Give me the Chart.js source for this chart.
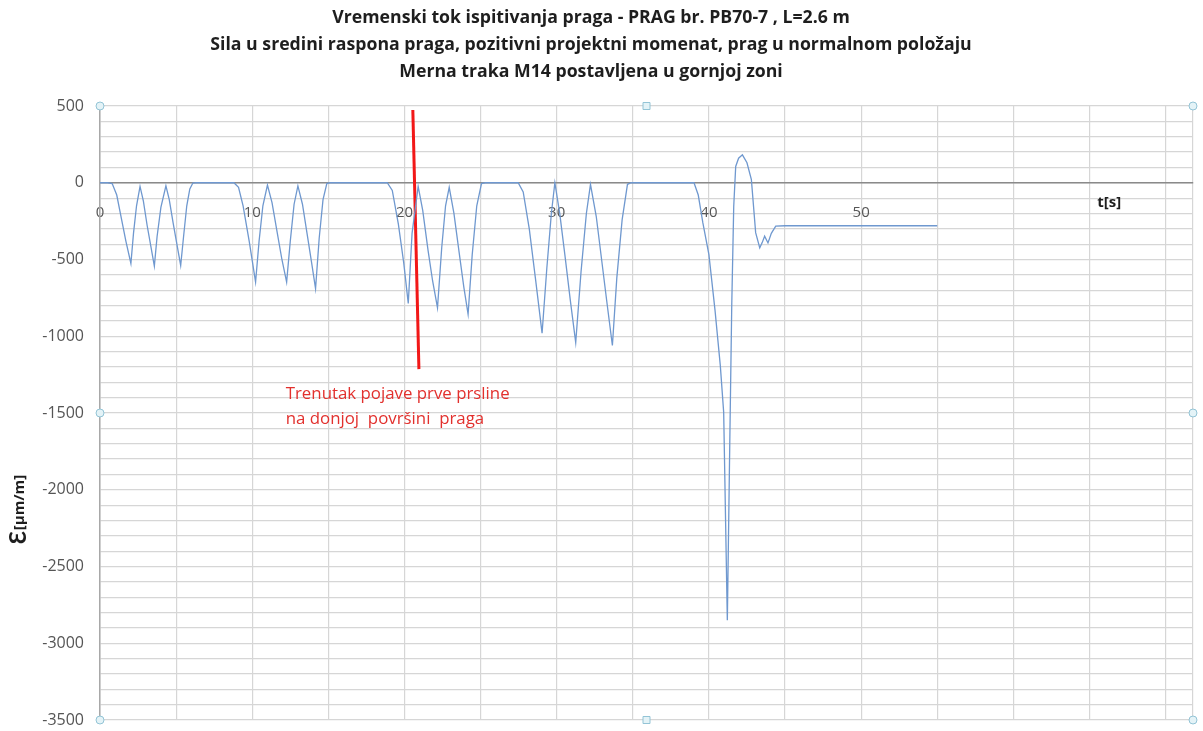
<!DOCTYPE html>
<html><head><meta charset="utf-8">
<script src="https://cdn.jsdelivr.net/npm/chart.js@4.4.1/dist/chart.umd.min.js"></script>
<style>html,body{margin:0;padding:0;background:#fff}#wrap{width:1203px;height:731px;position:relative}</style>
</head><body><div id="wrap"><canvas id="c" width="1203" height="731"></canvas></div>
<script>
const titleLines = [
  'Vremenski tok ispitivanja praga - PRAG br. PB70-7 , L=2.6 m',
  'Sila u sredini raspona praga, pozitivni projektni momenat, prag u normalnom položaju',
  'Merna traka M14 postavljena u gornjoj zoni'
];
const yAxisTitle = ['Ɛ', '[µm/m]'];
const xAxisTitle = 't[s]';
const annotationLines = ['Trenutak pojave prve prsline', 'na donjoj  površini  praga'];
const xTickLabels = ['0', '10', '20', '30', '40', '50'];
const yTickLabels = ['500', '0', '-500', '-1000', '-1500', '-2000', '-2500', '-3000', '-3500'];

const timeS = [
  0, 0.5, 0.8, 1.1, 1.4, 1.7, 2.03, 2.2, 2.4, 2.63, 2.85, 3.1, 3.35, 3.57, 3.75, 4.0, 4.33, 4.55, 4.8, 5.05, 5.3, 5.5, 5.7, 5.9, 6.1, 6.3,
  8.8, 9.1, 9.4, 9.8, 10.22, 10.45, 10.7, 11.0, 11.3, 11.65, 11.95, 12.26, 12.5, 12.75, 13.0, 13.3, 13.6, 13.9, 14.16, 14.4, 14.65, 14.9, 15.1,
  18.87, 19.2, 19.6, 19.95, 20.25, 20.5, 20.9, 21.2, 21.55, 21.85, 22.17, 22.45, 22.7, 22.94, 23.25, 23.6, 23.9, 24.18, 24.45, 24.75, 25.06, 25.3,
  27.47, 27.8, 28.2, 28.6, 29.04, 29.35, 29.65, 29.88, 30.2, 30.55, 30.9, 31.25, 31.6, 31.95, 32.22, 32.6, 32.95, 33.3, 33.66, 33.95, 34.3, 34.65, 34.9,
  39.02, 39.3, 39.6, 40.0, 40.4, 40.75, 40.97, 41.21, 41.37, 41.5, 41.63, 41.76, 41.95, 42.2, 42.5, 42.79, 43.07, 43.34, 43.5, 43.66, 43.88, 44.1, 44.39, 45, 55
];
const strain = [
  0, 0, -5, -80, -230, -380, -526, -330, -150, -24, -120, -280, -420, -543, -350, -160, -20, -110, -260, -400, -539, -340, -150, -40, -2, 0,
  0, -30, -150, -380, -647, -380, -150, -15, -130, -330, -500, -647, -380, -140, -20, -140, -330, -520, -690, -360, -110, -5, 0,
  0, -50, -270, -520, -786, -330, -24, -180, -440, -640, -814, -420, -150, -30, -200, -460, -680, -857, -470, -150, -5, 0,
  0, -60, -300, -620, -980, -560, -200, 0, -200, -480, -770, -1041, -580, -200, -10, -220, -500, -780, -1060, -620, -240, -10, 0,
  0, -80, -260, -468, -830, -1193, -1496, -2850, -1700, -800, -154, 106, 160, 182, 130, 20, -325, -424, -390, -348, -392, -330, -283, -280, -280
];
const crackLineT = [20.55, 20.95];
const crackLineV = [474, -1214];

const xGridValues = [0, 5, 10, 15, 20, 25, 30, 35, 40, 45, 50, 55, 60, 65, 70, 71.8];

const FONT = '"Open Sans", Lato, "Liberation Sans", sans-serif';

function fitFont(ctx, weight, text, target) {
  ctx.font = weight + ' 20px ' + FONT;
  const w = ctx.measureText(text).width;
  return weight + ' ' + (20 * target / w).toFixed(2) + 'px ' + FONT;
}

const decorPlugin = {
  id: 'decor',
  afterDraw(chart) {
    const ctx = chart.ctx;
    const a = chart.chartArea;
    const xs = chart.scales.x, ys = chart.scales.y;
    ctx.save();
    // title
    ctx.fillStyle = '#1e1e1e';
    ctx.font = fitFont(ctx, 'bold', titleLines[1], 762);
    ctx.textAlign = 'center';
    ctx.textBaseline = 'middle';
    const ty = [18, 45, 72];
    titleLines.forEach((l, i) => ctx.fillText(l, 591, ty[i]));
    // annotation text
    ctx.fillStyle = '#e2302d';
    ctx.font = fitFont(ctx, 'normal', annotationLines[0], 224);
    ctx.textAlign = 'left';
    const ax = xs.getPixelForValue(12.2);
    const ay = ys.getPixelForValue(-1377);
    ctx.fillText(annotationLines[0], ax, ay);
    ctx.fillText(annotationLines[1], ax, ay + 25);
    // t[s]
    ctx.fillStyle = '#1e1e1e';
    ctx.font = 'bold 15px ' + FONT;
    ctx.textAlign = 'center';
    ctx.fillText(xAxisTitle, xs.getPixelForValue(66.3), ys.getPixelForValue(-130));
    // y axis title rotated
    ctx.save();
    ctx.translate(20, 510);
    ctx.rotate(-Math.PI / 2);
    ctx.textAlign = 'left';
    ctx.font = 'bold 22px ' + FONT;
    const w1 = ctx.measureText(yAxisTitle[0]).width;
    ctx.font = 'bold 15px ' + FONT;
    const w2 = ctx.measureText(yAxisTitle[1]).width;
    const start = -(w1 + w2) / 2;
    ctx.font = 'bold 22px ' + FONT;
    ctx.fillText(yAxisTitle[0], start, 0);
    ctx.font = 'bold 15px ' + FONT;
    ctx.fillText(yAxisTitle[1], start + w1 + 1, 0);
    ctx.restore();
    // selection handles
    const mx = (a.left + a.right) / 2, my = (a.top + a.bottom) / 2;
    ctx.fillStyle = '#e4f3f7';
    ctx.strokeStyle = '#93c4d6';
    ctx.lineWidth = 1;
    [[a.left, a.top], [a.right, a.top], [a.left, my], [a.right, my], [a.left, a.bottom], [a.right, a.bottom]].forEach(p => {
      ctx.beginPath(); ctx.arc(p[0], p[1], 4, 0, Math.PI * 2); ctx.fill(); ctx.stroke();
    });
    [[mx, a.top], [mx, a.bottom]].forEach(p => {
      ctx.beginPath(); ctx.rect(p[0] - 3.5, p[1] - 3.5, 7, 7); ctx.fill(); ctx.stroke();
    });
    ctx.restore();
  }
};

new Chart(document.getElementById('c'), {
  type: 'scatter',
  data: {
    datasets: [
      {
        data: timeS.map((t, i) => ({ x: t, y: strain[i] })),
        showLine: true,
        borderColor: '#6f98cf',
        borderWidth: 1.3,
        pointRadius: 0,
        tension: 0
      },
      {
        data: crackLineT.map((t, i) => ({ x: t, y: crackLineV[i] })),
        showLine: true,
        borderColor: '#f21818',
        borderWidth: 3,
        pointRadius: 0
      }
    ]
  },
  options: {
    responsive: false,
    animation: false,
    devicePixelRatio: 1,
    layout: { padding: { top: 106, left: 0, right: 10, bottom: 11 } },
    plugins: { legend: { display: false }, tooltip: { enabled: false }, title: { display: false } },
    scales: {
      x: {
        type: 'linear',
        min: 0,
        max: 71.8,
        position: { y: 0 },
        afterBuildTicks(s) { s.ticks = xGridValues.map(v => ({ value: v })); },
        afterFit(s) { s.height = 0; s.paddingLeft = 0; s.paddingRight = 0; s.paddingTop = 0; s.paddingBottom = 0; },
        grid: { color: '#d6d6d6', lineWidth: 1.2, drawTicks: false },
        border: { display: true, color: '#8a8a8a', width: 1.5 },
        ticks: {
          autoSkip: false,
          maxRotation: 0,
          padding: 21,
          color: '#555',
          font: { family: FONT, size: 15 },
          callback(v) { const s = String(v); return xTickLabels.includes(s) ? s : ''; }
        }
      },
      y: {
        type: 'linear',
        min: -3500,
        max: 500,
        afterFit(s) { s.width = 100; s.paddingTop = 0; s.paddingBottom = 0; s.paddingLeft = 0; s.paddingRight = 0; },
        grid: { color: '#d6d6d6', lineWidth: 1.2, drawTicks: false },
        border: { display: true, color: '#a8a8a8', width: 1.5 },
        ticks: {
          stepSize: 100,
          autoSkip: false,
          padding: 16,
          color: '#555',
          font: { family: FONT, size: 16 },
          callback(v) { const s = String(v); return yTickLabels.includes(s) ? s : ''; }
        }
      }
    }
  },
  plugins: [decorPlugin]
});
</script></body></html>
